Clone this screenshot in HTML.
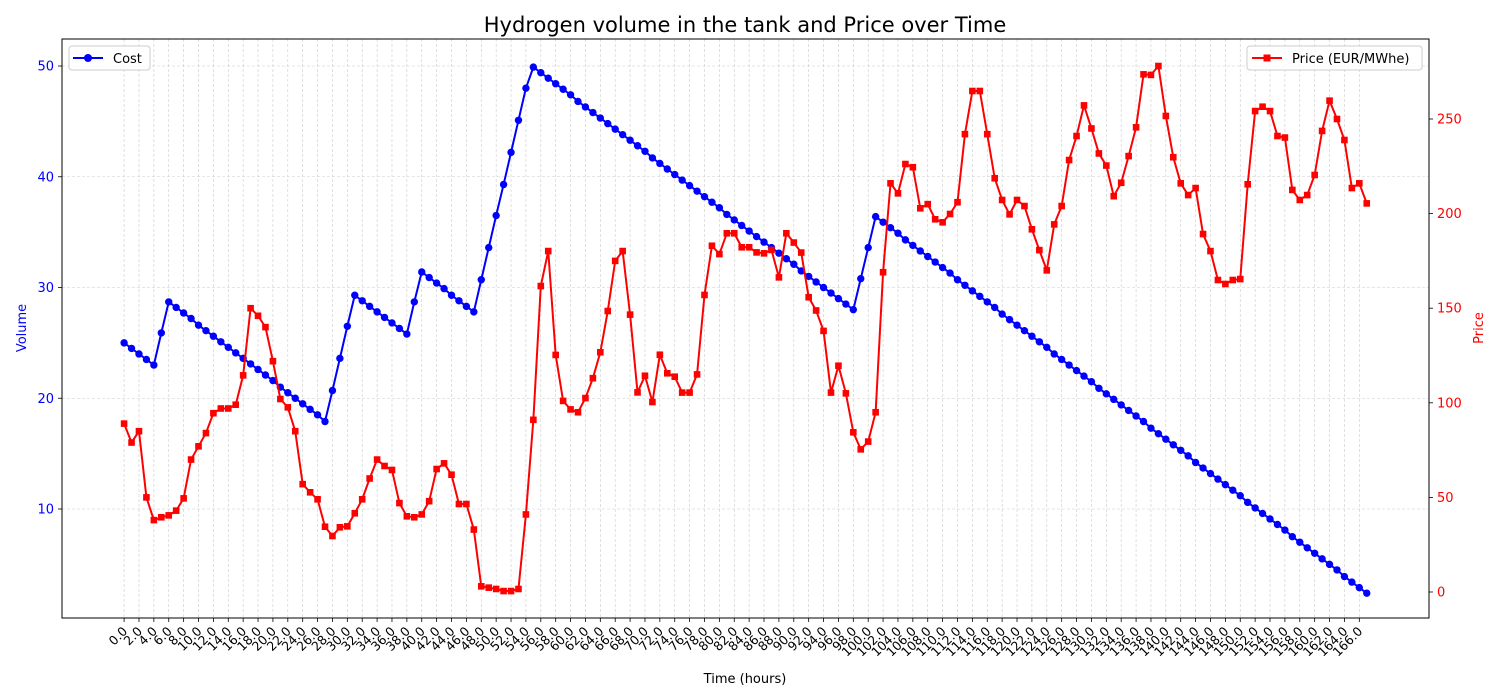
<!DOCTYPE html>
<html><head><meta charset="utf-8"><style>
html,body{margin:0;padding:0;background:#fff;}
svg{display:block;font-family:"DejaVu Sans","Liberation Sans",sans-serif;}
</style></head><body>
<svg id="chart" width="1500" height="700" viewBox="0 0 1500 700" xmlns="http://www.w3.org/2000/svg">
<rect x="0" y="0" width="1500" height="700" fill="#fff"/>
<g id="grid"></g>
<g id="series"></g>
<rect x="62" y="39" width="1367" height="579" fill="none" stroke="#000" stroke-width="1"/>
<g id="axes"></g>
<text x="745" y="32" font-size="21" text-anchor="middle">Hydrogen volume in the tank and Price over Time</text>
<text x="745" y="683" font-size="13" text-anchor="middle">Time (hours)</text>
<text transform="translate(26,328) rotate(-90)" font-size="13" fill="#0000ff" text-anchor="middle">Volume</text>
<text transform="translate(1483,328) rotate(-90)" font-size="13" fill="#ff0000" text-anchor="middle">Price</text>
<g>
<rect x="69" y="46" width="81" height="24" rx="3" fill="#fff" fill-opacity="0.8" stroke="#ccc"/>
<line x1="73" y1="58" x2="103" y2="58" stroke="#0000ff" stroke-width="2"/>
<circle cx="88" cy="58" r="4" fill="#0000ff"/>
<text x="113" y="63" font-size="13">Cost</text>
</g>
<g>
<rect x="1247" y="46" width="175" height="24" rx="3" fill="#fff" fill-opacity="0.8" stroke="#ccc"/>
<line x1="1252" y1="58" x2="1282" y2="58" stroke="#ff0000" stroke-width="2"/>
<rect x="1263.5" y="54.5" width="7" height="7" fill="#ff0000"/>
<text x="1292" y="63" font-size="13">Price (EUR/MWhe)</text>
</g>
</svg>
<script>
const volume = [25.0,24.5,24.0,23.5,23.0,25.9,28.7,28.2,27.7,27.2,26.6,26.1,25.6,25.1,24.6,24.1,23.6,23.1,22.6,22.1,21.6,21.0,20.5,20.0,19.5,19.0,18.5,17.9,20.7,23.6,26.5,29.3,28.8,28.3,27.8,27.3,26.8,26.3,25.8,28.7,31.4,30.9,30.4,29.9,29.3,28.8,28.3,27.8,30.7,33.6,36.5,39.3,42.2,45.1,48.0,49.9,49.4,48.9,48.4,47.9,47.4,46.8,46.3,45.8,45.3,44.8,44.3,43.8,43.3,42.8,42.3,41.7,41.2,40.7,40.2,39.7,39.2,38.7,38.2,37.7,37.2,36.6,36.1,35.6,35.1,34.6,34.1,33.6,33.1,32.6,32.1,31.5,31.0,30.5,30.0,29.5,29.0,28.5,28.0,30.8,33.6,36.4,35.9,35.4,34.9,34.3,33.8,33.3,32.8,32.3,31.8,31.3,30.7,30.2,29.7,29.2,28.7,28.2,27.6,27.1,26.6,26.1,25.6,25.1,24.6,24.0,23.5,23.0,22.5,22.0,21.5,20.9,20.4,19.9,19.4,18.9,18.4,17.9,17.3,16.8,16.3,15.8,15.3,14.8,14.2,13.7,13.2,12.7,12.2,11.7,11.2,10.6,10.1,9.6,9.1,8.6,8.1,7.5,7.0,6.5,6.0,5.5,5.0,4.5,3.9,3.4,2.9,2.4];
const price = [89,79,85,50,38,39.5,40.5,43,49.5,70,77,84,94.5,97,97,99,114.5,150,146,140,122,102,97.6,85,57,52.7,49,34.5,29.6,34.2,34.7,41.6,49,60,70,66.6,64.5,47,40,39.5,41,48,65,68,62,46.5,46.5,33,3,2.3,1.6,0.5,0.5,1.6,41,91,161.7,180.2,125.3,101,96.5,95,102.5,113,126.7,148.5,175,180.2,146.6,105.5,114.3,100.4,125.4,115.6,113.8,105.4,105.4,115,157,183,178.6,189.6,189.6,182.2,182.2,179.5,179,180.8,166.3,189.6,184.7,179.4,155.8,148.8,138,105.4,119.6,105,84.4,75.4,79.5,95,169,216,210.7,226.2,224.5,202.8,205,197,195.4,199.8,206,242,264.8,264.8,242,218.7,207.2,199.6,207.2,204,191.7,180.7,170,194.3,204,228.3,241,257.2,245,231.8,225.4,209.2,216.3,230.4,245.6,273.6,273.3,278,251.6,229.8,216,209.8,213.5,189.2,180.2,164.9,162.8,164.9,165.4,215.5,254.2,256.5,254.2,241,240.2,212.5,207.2,209.8,220.4,243.7,259.7,250,238.9,213.5,216,205.4];
const volumeTicks = [10,20,30,40,50];
const priceTicks = [0,50,100,150,200,250];
const hourTickStep = 2;
const hourTickMax = 166;

const NS = "http://www.w3.org/2000/svg";
const X0 = 124.1, XS = 7.441;
function xPos(h){ return X0 + h*XS; }
function yVol(v){ return 66 + (50 - v)*11.075; }
function yPrice(p){ return 592 - p*1.892; }
function mk(tag, attrs, parent){
  const e = document.createElementNS(NS, tag);
  for (const k in attrs) e.setAttribute(k, attrs[k]);
  parent.appendChild(e); return e;
}
const grid = document.getElementById('grid');
const axes = document.getElementById('axes');
const series = document.getElementById('series');

for (let h = 0; h <= hourTickMax; h += hourTickStep) {
  const x = xPos(h);
  const gl = mk('line', {x1:x, y1:39, x2:x, y2:618, stroke:'#cccccc', 'stroke-width':0.6, 'stroke-dasharray':'3,2'}, grid);
  
  
  const tk = mk('line', {x1:x, y1:618, x2:x, y2:622, stroke:'#000', 'stroke-width':0.8}, axes);
  
  
  const t = mk('text', {transform:`translate(${x+4},${632}) rotate(-45)`, 'font-size':12.5, 'text-anchor':'end'}, axes);
  t.textContent = h.toFixed(1);
  
  
}
volumeTicks.forEach(v => {
  const y = yVol(v);
  const gl = mk('line', {x1:62, y1:y, x2:1429, y2:y, stroke:'#cccccc', 'stroke-width':0.6, 'stroke-dasharray':'3,2'}, grid);
  
  
  const tk = mk('line', {x1:58, y1:y, x2:62, y2:y, stroke:'#000', 'stroke-width':0.8}, axes);
  
  
  const t = mk('text', {x:54, y:y+4.5, 'font-size':13, 'text-anchor':'end', fill:'#0000ff'}, axes);
  t.textContent = v;
  
  
});
priceTicks.forEach(p => {
  const y = yPrice(p);
  const tk = mk('line', {x1:1429, y1:y, x2:1433, y2:y, stroke:'#000', 'stroke-width':0.8}, axes);
  
  
  const t = mk('text', {x:1437, y:y+4.5, 'font-size':13, 'text-anchor':'start', fill:'#ff0000'}, axes);
  t.textContent = p;
  
  
});

const vl = mk('polyline', {points: volume.map((v,i)=>xPos(i)+','+yVol(v)).join(' '), fill:'none', stroke:'#0000ff', 'stroke-width':2, 'stroke-linejoin':'round'}, series);


volume.forEach((v,i) => {
  const c = mk('circle', {cx:xPos(i), cy:yVol(v), r:3.7, fill:'#0000ff'}, series);
  
  
});
const pl = mk('polyline', {points: price.map((p,i)=>xPos(i)+','+yPrice(p)).join(' '), fill:'none', stroke:'#ff0000', 'stroke-width':2, 'stroke-linejoin':'round'}, series);


price.forEach((p,i) => {
  const r = mk('rect', {x:xPos(i)-3.3, y:yPrice(p)-3.3, width:6.6, height:6.6, fill:'#ff0000'}, series);
  
  
});
</script>
</body></html>
